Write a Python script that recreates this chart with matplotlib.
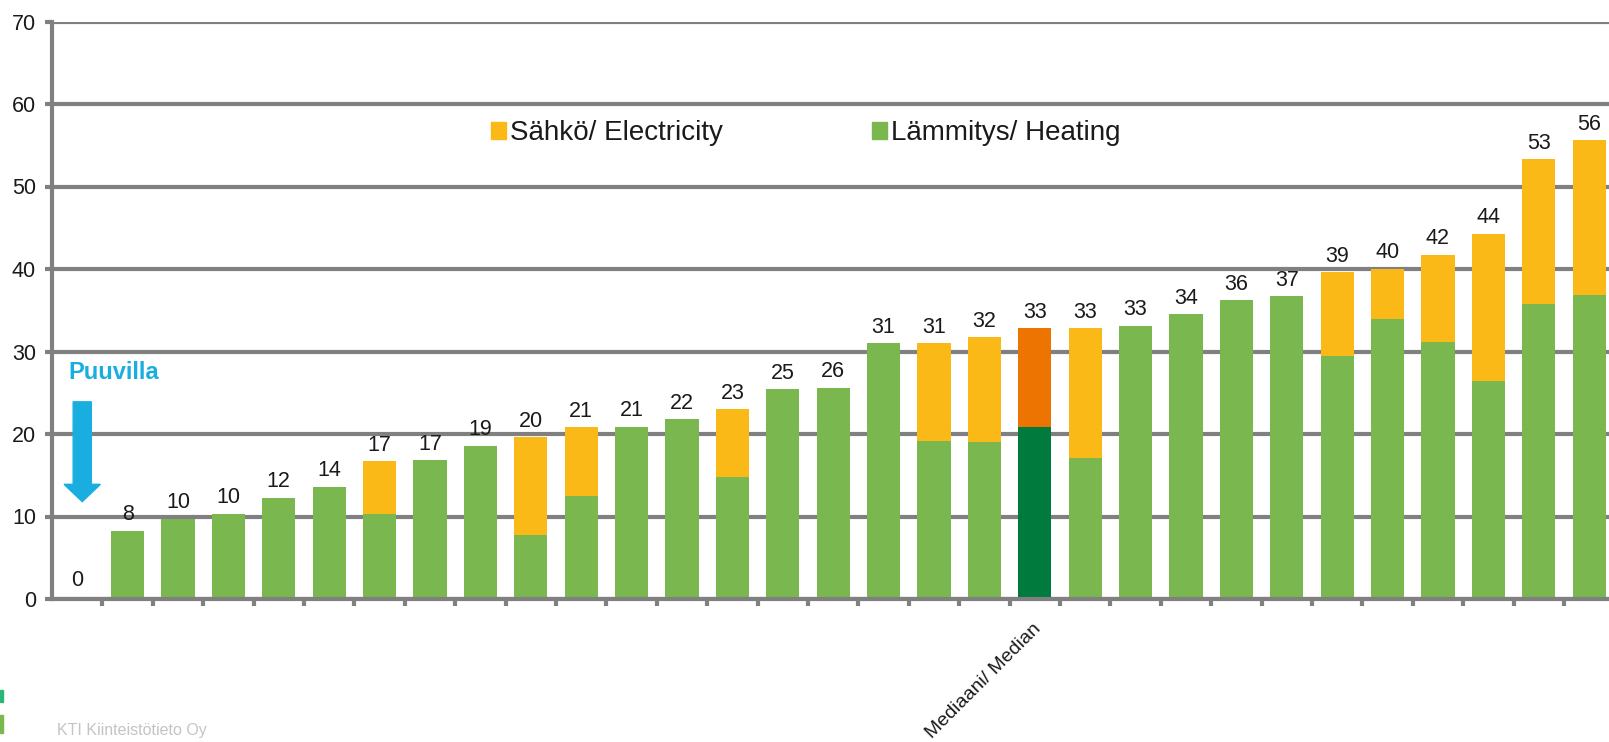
import numpy as np
import matplotlib
matplotlib.use("Agg")
import matplotlib.pyplot as plt
from matplotlib.patches import Patch, FancyArrow, Rectangle

plt.rcParams['font.family'] = ['Liberation Sans', 'DejaVu Sans']

# ---- data ----
heating = [0.3, 8.3, 9.7, 10.3, 12.3, 13.6, 10.3, 16.8, 18.6, 7.8,
           12.5, 20.9, 21.8, 14.8, 25.4, 25.6, 31.0, 19.2, 19.0, 20.9,
           17.1, 33.1, 34.5, 36.2, 36.7, 29.5, 33.9, 31.1, 26.4, 35.8, 36.9]
electricity = [0, 0, 0, 0, 0, 0, 6.4, 0, 0, 11.8,
               8.3, 0, 0, 8.2, 0, 0, 0, 11.8, 12.7, 11.9,
               15.7, 0, 0, 0, 0, 10.1, 6.1, 10.6, 17.9, 17.5, 18.7]
labels = [0, 8, 10, 10, 12, 14, 17, 17, 19, 20, 21, 21, 22, 23, 25, 26,
          31, 31, 32, 33, 33, 33, 34, 36, 37, 39, 40, 42, 44, 53, 56]
median_index = 19
median_label = "Mediaani/ Median"
legend_labels = ["Sähkö/ Electricity", "Lämmitys/ Heating"]
yticks = [0, 10, 20, 30, 40, 50, 60, 70]

GREEN = "#7AB74F"
YELLOW = "#FBB917"
DGREEN = "#007A3D"
ORANGE = "#EE7402"
GRAY = "#808080"
CYAN = "#1AAEE0"
TXT = "#1a1a1a"

W, H = 1609, 742
fig = plt.figure(figsize=(W / 100, H / 100), dpi=100)
x0, y0 = 52, 599
ytop = 21.5
cat_w = 50.4
n = len(heating)
ax = fig.add_axes([x0 / W, (H - y0) / H, n * cat_w / W, (y0 - ytop) / H])

x = np.arange(n)
hcol = [DGREEN if i == median_index else GREEN for i in range(n)]
ecol = [ORANGE if i == median_index else YELLOW for i in range(n)]
ax.bar(x, heating, width=0.66, color=hcol, zorder=3)
ax.bar(x, electricity, width=0.66, bottom=heating, color=ecol, zorder=3)

tot = np.array(heating) + np.array(electricity)
for i in range(n):
    ax.annotate(str(labels[i]), (x[i], tot[i]), xytext=(0, 4),
                textcoords="offset points", ha="center", va="bottom",
                fontsize=15.5, color=TXT, zorder=4)

ax.set_xlim(-0.5, n - 0.5)
ax.set_ylim(0, 70)
ax.set_yticks(yticks)
ax.set_yticklabels([str(v) for v in yticks], fontsize=15.5, color=TXT)
ax.yaxis.grid(True, color=GRAY, linewidth=3.0, zorder=0)
ax.set_axisbelow(True)
for s in ["top", "right"]:
    ax.spines[s].set_visible(False)
for s in ["left", "bottom"]:
    ax.spines[s].set_color(GRAY)
    ax.spines[s].set_linewidth(3.0)
    ax.spines[s].set_zorder(5)
ax.tick_params(axis="y", length=5, width=3.0, color=GRAY, pad=6.5)

ax.set_xticks(np.arange(0.5, n - 0.5, 1))
ax.set_xticklabels([])
ax.tick_params(axis="x", length=5, width=3.0, color=GRAY)
ax.text(median_index - 0.05, -2.6, median_label, rotation=45, ha="right", va="top",
        rotation_mode="anchor", fontsize=14, color=TXT)

handles = [Patch(color=YELLOW), Patch(color=GREEN)]
leg = ax.legend(handles, legend_labels, ncol=2, frameon=False,
                loc="center left",
                bbox_to_anchor=((491 - x0) / (n * cat_w), (y0 - 133) / (y0 - ytop)),
                fontsize=20, handlelength=0.55, handleheight=0.55,
                handletextpad=0.15, columnspacing=5.35, borderaxespad=0, borderpad=0)
for t in leg.get_texts():
    t.set_color(TXT)

# Puuvilla annotation
ax.text(-0.18, 27.5, "Puuvilla", color=CYAN, fontsize=17, fontweight="bold",
        ha="left", va="center")
arrow = FancyArrow(0.1, 23.9, 0, -12.1, width=0.36, head_width=0.72,
                   head_length=2.1, length_includes_head=True,
                   color=CYAN, zorder=4, clip_on=False)
ax.add_patch(arrow)

fig.text(57 / W, 1 - 730 / H, "KTI Kiinteistötieto Oy", fontsize=11.5,
         color="#c4c4c4", ha="left", va="center")
fig.patches.append(Rectangle((0, 1 - 702 / H), 3 / W, 12 / H,
                             transform=fig.transFigure, color="#2bb673"))
fig.patches.append(Rectangle((0, 1 - 733 / H), 3 / W, 18 / H,
                             transform=fig.transFigure, color="#7AB74F"))

fig.savefig("out.png", dpi=100)
